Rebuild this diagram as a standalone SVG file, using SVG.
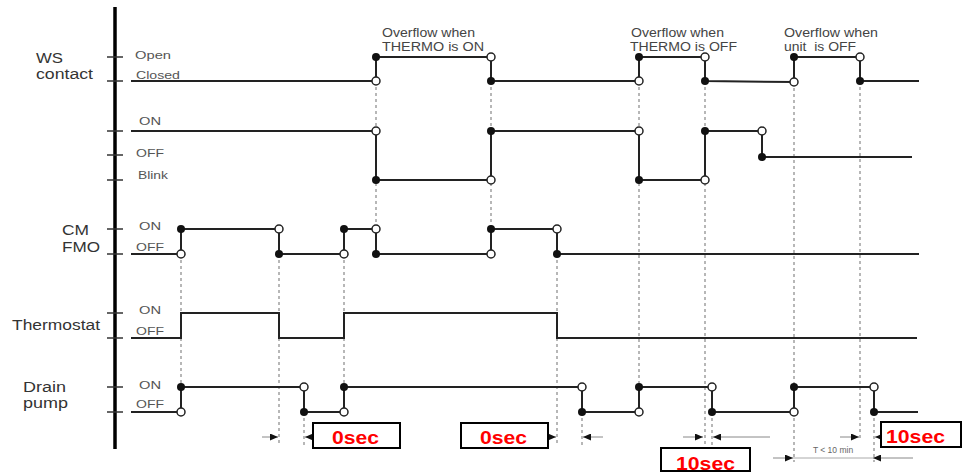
<svg xmlns="http://www.w3.org/2000/svg" width="962" height="473" viewBox="0 0 962 473">
<defs>
<style>
.big{font-family:"Liberation Sans",Arial,sans-serif;font-size:14px;fill:#333}
.sm{font-family:"Liberation Sans",Arial,sans-serif;font-size:11.5px;fill:#555}
.ov{font-family:"Liberation Sans",Arial,sans-serif;font-size:12.5px;fill:#444}
.tiny{font-family:"Liberation Sans",Arial,sans-serif;font-size:8.5px;fill:#666}
.red{font-family:"Liberation Sans",Arial,sans-serif;font-size:18.5px;font-weight:bold;fill:#ff0000}
.sig{fill:none;stroke:#222;stroke-width:2}
.tick{stroke:#333;stroke-width:1.5}
.dash{stroke:#888;stroke-width:1.2;stroke-dasharray:3 3}
.arr{stroke:#888;stroke-width:1;marker-end:url(#ah)}
.thin{stroke:#aaa;stroke-width:1}
.box{fill:#fff;stroke:#000;stroke-width:2}
.h{fill:#fff;stroke:#222;stroke-width:1.5}
.f{fill:#111}
</style>
<marker id="ah" markerUnits="userSpaceOnUse" markerWidth="8" markerHeight="7" refX="8" refY="3.5" orient="auto">
<path d="M0,0 L8,3.5 L0,7 z" fill="#111"/>
</marker>
</defs>
<rect width="962" height="473" fill="#fff"/>

<g id="axis">
<line x1="115" y1="7" x2="115" y2="449" stroke="#000" stroke-width="3.5"/>
<g class="tick">
<line x1="107" y1="57" x2="123" y2="57"/>
<line x1="107" y1="81" x2="123" y2="81"/>
<line x1="107" y1="131" x2="123" y2="131"/>
<line x1="107" y1="155" x2="123" y2="155"/>
<line x1="107" y1="180" x2="123" y2="180"/>
<line x1="107" y1="229" x2="123" y2="229"/>
<line x1="107" y1="254" x2="123" y2="254"/>
<line x1="107" y1="313" x2="123" y2="313"/>
<line x1="107" y1="338" x2="123" y2="338"/>
<line x1="107" y1="387" x2="123" y2="387"/>
<line x1="107" y1="412" x2="123" y2="412"/>
</g>
</g>

<g id="connectors">
<g class="dash">
<line x1="181" y1="254" x2="181" y2="387"/>
<line x1="279" y1="254" x2="279" y2="446"/>
<line x1="304" y1="412" x2="304" y2="446"/>
<line x1="344" y1="254" x2="344" y2="387"/>
<line x1="376" y1="81" x2="376" y2="229"/>
<line x1="491" y1="81" x2="491" y2="229"/>
<line x1="557" y1="254" x2="557" y2="446"/>
<line x1="582" y1="412" x2="582" y2="446"/>
<line x1="639" y1="81" x2="639" y2="387"/>
<line x1="705" y1="81" x2="705" y2="448"/>
<line x1="712" y1="412" x2="712" y2="450"/>
<line x1="794" y1="82" x2="794" y2="462"/>
<line x1="860" y1="81" x2="860" y2="440"/>
<line x1="874" y1="412" x2="874" y2="462"/>
</g>
<line class="arr" x1="262" y1="437" x2="278" y2="437"/>
<line class="arr" x1="313" y1="437" x2="305" y2="437"/>
<line class="arr" x1="548" y1="437" x2="556" y2="437"/>
<line class="arr" x1="603" y1="437" x2="583" y2="437"/>
<line class="arr" x1="683" y1="437" x2="703" y2="437"/>
<line class="arr" x1="770" y1="437" x2="713" y2="437"/>
<line class="thin" x1="793" y1="458" x2="873" y2="458"/>
<line class="arr" x1="773" y1="458" x2="793" y2="458"/>
<line class="arr" x1="913" y1="458" x2="873" y2="458"/>
<line class="arr" x1="840" y1="437" x2="859" y2="437"/>
<line class="arr" x1="881" y1="437" x2="875" y2="437"/>
<text class="tiny" x="833" y="453" text-anchor="middle">T &lt; 10 min</text>
</g>

<g id="ws-contact">
<text class="big" x="36" y="63" textLength="27" lengthAdjust="spacingAndGlyphs">WS</text>
<text class="big" x="36" y="79" textLength="57" lengthAdjust="spacingAndGlyphs">contact</text>
<text class="sm" x="135" y="59" textLength="36" lengthAdjust="spacingAndGlyphs">Open</text>
<text class="sm" x="136" y="79" textLength="44" lengthAdjust="spacingAndGlyphs">Closed</text>
<path class="sig" d="M131,81 H376 V57 H491 V81 H639 V57 H705 V81 L794,82 V57 H860 V81 H919"/>
<circle class="h" cx="376" cy="81" r="4"/><circle class="f" cx="376" cy="57" r="4"/>
<circle class="h" cx="491" cy="57" r="4"/><circle class="f" cx="491" cy="81" r="4"/>
<circle class="h" cx="639" cy="81" r="4"/><circle class="f" cx="639" cy="57" r="4"/>
<circle class="h" cx="705" cy="57" r="4"/><circle class="f" cx="705" cy="81" r="4"/>
<circle class="h" cx="794" cy="82" r="4"/><circle class="f" cx="794" cy="57" r="4"/>
<circle class="h" cx="860" cy="57" r="4"/><circle class="f" cx="860" cy="81" r="4"/>
</g>

<g id="indicator">
<text class="sm" x="139" y="125" textLength="22" lengthAdjust="spacingAndGlyphs">ON</text>
<text class="sm" x="136" y="157" textLength="28" lengthAdjust="spacingAndGlyphs">OFF</text>
<text class="sm" x="138" y="179" textLength="30" lengthAdjust="spacingAndGlyphs">Blink</text>
<path class="sig" d="M131,131 H376 V180 H491 V131 H639 V180 H705 V131 H762 V157 H912"/>
<circle class="h" cx="376" cy="131" r="4"/><circle class="f" cx="376" cy="180" r="4"/>
<circle class="h" cx="491" cy="180" r="4"/><circle class="f" cx="491" cy="131" r="4"/>
<circle class="h" cx="639" cy="131" r="4"/><circle class="f" cx="639" cy="180" r="4"/>
<circle class="h" cx="705" cy="180" r="4"/><circle class="f" cx="705" cy="131" r="4"/>
<circle class="h" cx="762" cy="131" r="4"/><circle class="f" cx="762" cy="157" r="4"/>
</g>

<g id="cm-fmo">
<text class="big" x="62" y="235" textLength="27" lengthAdjust="spacingAndGlyphs">CM</text>
<text class="big" x="62" y="252" textLength="38" lengthAdjust="spacingAndGlyphs">FMO</text>
<text class="sm" x="139" y="230" textLength="22" lengthAdjust="spacingAndGlyphs">ON</text>
<text class="sm" x="136" y="251" textLength="28" lengthAdjust="spacingAndGlyphs">OFF</text>
<path class="sig" d="M131,254 H181 V229 H279 V254 H344 V229 H376 V254 H491 V229 H557 V254 H919"/>
<circle class="h" cx="181" cy="254" r="4"/><circle class="f" cx="181" cy="229" r="4"/>
<circle class="h" cx="279" cy="229" r="4"/><circle class="f" cx="279" cy="254" r="4"/>
<circle class="h" cx="344" cy="254" r="4"/><circle class="f" cx="344" cy="229" r="4"/>
<circle class="h" cx="376" cy="229" r="4"/><circle class="f" cx="376" cy="254" r="4"/>
<circle class="h" cx="491" cy="254" r="4"/><circle class="f" cx="491" cy="229" r="4"/>
<circle class="h" cx="557" cy="229" r="4"/><circle class="f" cx="557" cy="254" r="4"/>
</g>

<g id="thermostat">
<text class="big" x="12" y="330" textLength="88" lengthAdjust="spacingAndGlyphs">Thermostat</text>
<text class="sm" x="139" y="314" textLength="22" lengthAdjust="spacingAndGlyphs">ON</text>
<text class="sm" x="136" y="335" textLength="28" lengthAdjust="spacingAndGlyphs">OFF</text>
<path class="sig" d="M131,338 H181 V313 H279 V338 H344 V313 H557 V338 H917"/>
</g>

<g id="drain-pump">
<text class="big" x="23" y="392" textLength="43" lengthAdjust="spacingAndGlyphs">Drain</text>
<text class="big" x="23" y="408" textLength="45" lengthAdjust="spacingAndGlyphs">pump</text>
<text class="sm" x="139" y="389" textLength="22" lengthAdjust="spacingAndGlyphs">ON</text>
<text class="sm" x="136" y="408" textLength="28" lengthAdjust="spacingAndGlyphs">OFF</text>
<path class="sig" d="M131,412 H181 V387 H304 V412 H344 V387 H582 V412 H639 V387 H712 V412 H794 V387 H874 V412 H918"/>
<circle class="h" cx="181" cy="412" r="4"/><circle class="f" cx="181" cy="387" r="4"/>
<circle class="h" cx="304" cy="387" r="4"/><circle class="f" cx="304" cy="412" r="4"/>
<circle class="h" cx="344" cy="412" r="4"/><circle class="f" cx="344" cy="387" r="4"/>
<circle class="h" cx="582" cy="387" r="4"/><circle class="f" cx="582" cy="412" r="4"/>
<circle class="h" cx="639" cy="412" r="4"/><circle class="f" cx="639" cy="387" r="4"/>
<circle class="h" cx="712" cy="387" r="4"/><circle class="f" cx="712" cy="412" r="4"/>
<circle class="h" cx="794" cy="412" r="4"/><circle class="f" cx="794" cy="387" r="4"/>
<circle class="h" cx="874" cy="387" r="4"/><circle class="f" cx="874" cy="412" r="4"/>
</g>

<g id="overflow-thermo-on">
<text class="ov" x="382" y="37" textLength="93" lengthAdjust="spacingAndGlyphs">Overflow when</text>
<text class="ov" x="382" y="51" textLength="102" lengthAdjust="spacingAndGlyphs">THERMO is ON</text>
</g>
<g id="overflow-thermo-off">
<text class="ov" x="631" y="37" textLength="93" lengthAdjust="spacingAndGlyphs">Overflow when</text>
<text class="ov" x="630" y="51" textLength="107" lengthAdjust="spacingAndGlyphs">THERMO is OFF</text>
</g>
<g id="overflow-unit-off">
<text class="ov" x="784" y="37" textLength="94" lengthAdjust="spacingAndGlyphs">Overflow when</text>
<text class="ov" x="784" y="51" textLength="72" lengthAdjust="spacingAndGlyphs" xml:space="preserve">unit  is OFF</text>
</g>

<g id="box-0sec-1">
<rect class="box" x="313" y="423" width="87" height="25"/>
<text class="red" x="332" y="444" textLength="47" lengthAdjust="spacingAndGlyphs">0sec</text>
</g>
<g id="box-0sec-2">
<rect class="box" x="461" y="423" width="87" height="25"/>
<text class="red" x="480" y="444" textLength="47" lengthAdjust="spacingAndGlyphs">0sec</text>
</g>
<g id="box-10sec-1">
<rect class="box" x="661" y="448" width="89" height="23"/>
<text class="red" x="676" y="470" textLength="59" lengthAdjust="spacingAndGlyphs">10sec</text>
</g>
<g id="box-10sec-2">
<rect class="box" x="881" y="422" width="80" height="25"/>
<text class="red" x="886" y="443" textLength="59" lengthAdjust="spacingAndGlyphs">10sec</text>
</g>
</svg>
